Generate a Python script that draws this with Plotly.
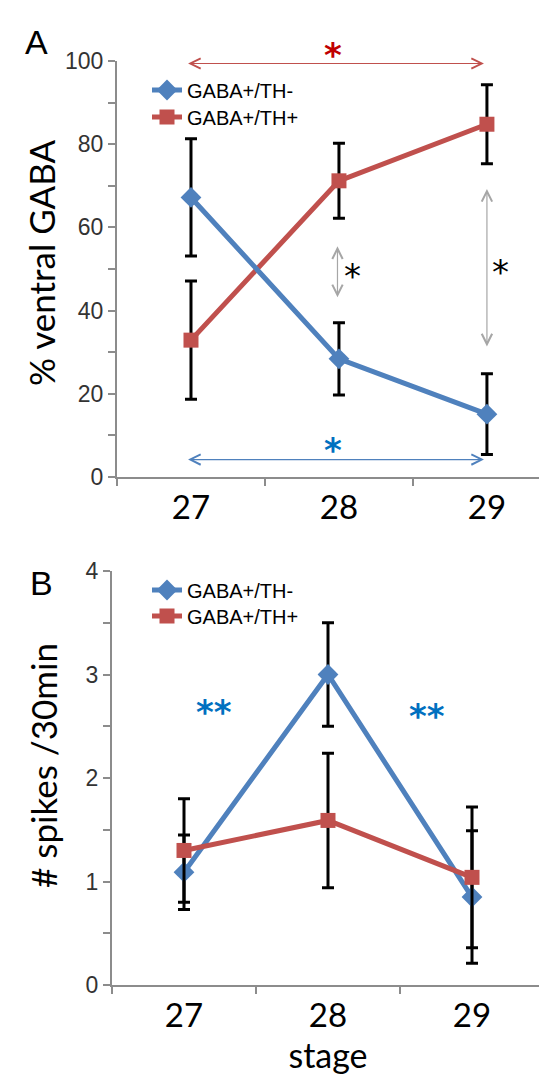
import plotly.graph_objects as go

# ---------------- data ----------------
stages = ["27", "28", "29"]
series_names = ["GABA+/TH-", "GABA+/TH+"]

# Panel A: % ventral GABA
a_th_neg = [67.2, 28.4, 15.1]
a_th_neg_err = [14.1, 8.7, 9.7]
a_th_pos = [32.9, 71.2, 84.8]
a_th_pos_err = [14.2, 9.0, 9.5]

# Panel B: # spikes / 30 min
b_th_neg = [1.09, 3.0, 0.85]
b_th_neg_err = [0.36, 0.5, 0.64]
b_th_pos = [1.30, 1.59, 1.04]
b_th_pos_err = [0.5, 0.65, 0.68]

a_yticks = [0, 20, 40, 60, 80, 100]
b_yticks = [0, 1, 2, 3, 4]

# ---------------- style ----------------
W, H = 547, 1076
BLUE = "#4F81BD"
RED = "#C0504D"
STAR_BLUE = "#0070C0"
STAR_RED = "#C00000"
AXIS_GRAY = "#8C8C8C"
ARROW_GRAY = "#A6A6A6"
SANS = "Liberation Sans, Arial, sans-serif"
HUM = "Lato, Open Sans, sans-serif"
STARF = "DejaVu Sans, sans-serif"


def px_x(p):
    return p / W


def px_y(p):
    return 1 - p / H


fig = go.Figure()


def add_series(x_axis, y_axis, legend, name, y, err, color, symbol, msize):
    fig.add_trace(go.Scatter(
        x=stages, y=y, name=name, mode="lines+markers",
        xaxis=x_axis, yaxis=y_axis, legend=legend,
        line=dict(color=color, width=5),
        marker=dict(color=color, symbol=symbol, size=msize),
        error_y=dict(type="data", array=err, visible=True, color="black",
                     thickness=3, width=6),
    ))


# Panel A (red drawn first, blue on top)
add_series("x", "y", "legend3", series_names[1], a_th_pos, a_th_pos_err, RED, "square", 15)
add_series("x", "y", "legend", series_names[0], a_th_neg, a_th_neg_err, BLUE, "diamond", 16)
# Panel B (blue first, red on top)
add_series("x2", "y2", "legend2", series_names[0], b_th_neg, b_th_neg_err, BLUE, "diamond", 16)
add_series("x2", "y2", "legend4", series_names[1], b_th_pos, b_th_pos_err, RED, "square", 15)

axis_common = dict(showline=True, linecolor=AXIS_GRAY, linewidth=2, showgrid=False,
                   zeroline=False, ticks="outside", ticklen=7, tickwidth=2,
                   tickcolor=AXIS_GRAY, automargin=False)

x_common = dict(axis_common, type="category", tickson="boundaries",
                tickfont=dict(family=HUM, size=33, color="black"))


def legend_at(row_center_px):
    # one legend entry per box, so each row can be placed exactly
    return dict(x=px_x(139), y=px_y(row_center_px), xanchor="left", yanchor="middle",
                bgcolor="rgba(0,0,0,0)", borderwidth=0,
                font=dict(family=SANS, size=20, color="black"))


fig.update_layout(
    width=W, height=H,
    margin=dict(l=0, r=0, t=0, b=0, pad=0, autoexpand=False),
    paper_bgcolor="white", plot_bgcolor="white",
    xaxis=dict(x_common, domain=[px_x(109), 1.0], range=[-0.5, 2.46], anchor="y"),
    yaxis=dict(axis_common, domain=[px_y(469), px_y(53)], range=[0, 100],
               tickvals=a_yticks, anchor="x",
               tickfont=dict(family=SANS, size=23, color="#333333"),
               minor=dict(dtick=10, ticks="outside", ticklen=7, tickwidth=2,
                          tickcolor=AXIS_GRAY, showgrid=False)),
    xaxis2=dict(x_common, domain=[px_x(104), px_x(536)], range=[-0.5, 2.5], anchor="y2",
                title=dict(text="stage", font=dict(family=HUM, size=34, color="black"),
                           standoff=6)),
    yaxis2=dict(axis_common, domain=[px_y(977), px_y(563)], range=[0, 4],
                tickvals=b_yticks, anchor="x2",
                tickfont=dict(family=SANS, size=23, color="#333333"),
                minor=dict(dtick=0.5, ticks="outside", ticklen=7, tickwidth=2,
                           tickcolor=AXIS_GRAY, showgrid=False)),
    legend=legend_at(82),
    legend3=legend_at(109),
    legend2=legend_at(582),
    legend4=legend_at(608),
    showlegend=True,
)

ann = []
# Panel letters
ann.append(dict(text="A", x=px_x(28), y=px_y(34), xref="paper", yref="paper",
                xanchor="center", yanchor="middle",
                showarrow=False, font=dict(family=SANS, size=34, color="black")))
ann.append(dict(text="B", x=px_x(33), y=px_y(575), xref="paper", yref="paper",
                xanchor="center", yanchor="middle",
                showarrow=False, font=dict(family=SANS, size=34, color="black")))
# Y-axis titles
ann.append(dict(text="% ventral GABA", x=px_x(33), y=px_y(255), xref="paper", yref="paper",
                xanchor="center", yanchor="middle",
                textangle=-90, showarrow=False, font=dict(family=HUM, size=35, color="black")))
ann.append(dict(text="# spikes /30min", x=px_x(35), y=px_y(758), xref="paper", yref="paper",
                xanchor="center", yanchor="middle",
                textangle=-90, showarrow=False, font=dict(family=HUM, size=35, color="black")))


def dbl_arrow(xr, yr, x0, y0, x1, y1, color, width=1.2, size=1.7):
    return dict(x=x1, y=y1, ax=x0, ay=y0, xref=xr, yref=yr, axref=xr, ayref=yr,
                text="", showarrow=True, arrowhead=5, startarrowhead=5,
                arrowside="end+start", arrowsize=size, startarrowsize=size,
                arrowwidth=width, arrowcolor=color, standoff=0, startstandoff=0)


def star(xr, yr, x, y, text, color, size=34, bold=True):
    t = "<b>%s</b>" % text if bold else text
    return dict(x=x, y=y, xref=xr, yref=yr, text=t, showarrow=False, yshift=-6,
                xanchor="center", yanchor="middle",
                font=dict(family=STARF, size=size, color=color))


# Panel A significance marks
ann.append(dbl_arrow("x", "y", -0.03, 99.4, 1.98, 99.4, RED))
ann.append(star("x", "y domain", 0.96, 1.028, "*", STAR_RED))
ann.append(dbl_arrow("x", "y", -0.03, 4.2, 1.98, 4.2, BLUE))
ann.append(star("x", "y", 0.96, 8.0, "*", STAR_BLUE))
ann.append(dbl_arrow("x", "y", 0.99, 55.8, 0.99, 43.2, ARROW_GRAY))
ann.append(star("x", "y", 1.09, 49.8, "*", "black", size=34, bold=False))
ann.append(dbl_arrow("x", "y", 2.0, 69.6, 2.0, 31.4, ARROW_GRAY))
ann.append(star("x", "y", 2.09, 50.7, "*", "black", size=34, bold=False))
# Panel B significance marks
ann.append(star("x2", "y2", 0.21, 2.70, "**", STAR_BLUE))
ann.append(star("x2", "y2", 1.69, 2.66, "**", STAR_BLUE))

fig.update_layout(annotations=ann)

fig.write_html("out.html")
